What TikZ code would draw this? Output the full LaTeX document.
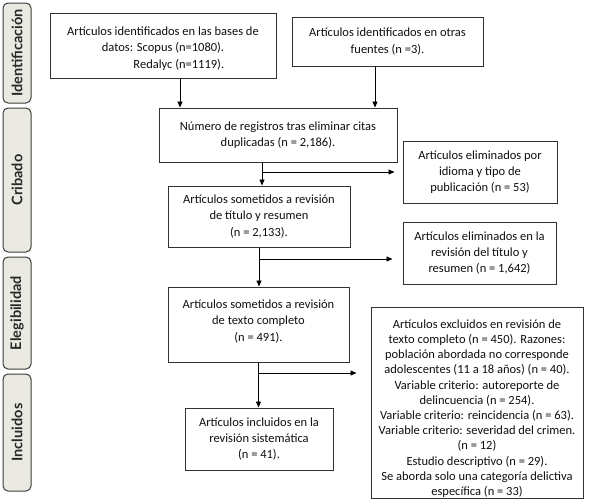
\documentclass[tikz,border=0pt]{standalone}
\usepackage{fontspec}
\usepackage{calc}
\setmainfont{Carlito}
\newfontfamily\sidefont{Lato}
\usetikzlibrary{arrows.meta}
\definecolor{boxc}{RGB}{50,50,50}
\definecolor{txtc}{RGB}{15,15,15}
\definecolor{sidec}{RGB}{60,60,60}
\definecolor{sidefill}{RGB}{235,234,226}
\definecolor{sidetxt}{RGB}{40,40,40}
\begin{document}
\begin{tikzpicture}[x=1pt,y=-1pt,
  box/.style={draw=boxc, line width=1pt, align=center, inner sep=0pt, text=txtc, font=\fontsize{12.5}{16.3}\selectfont},
  boxtext/.style={align=center, inner sep=0pt, text=txtc, font=\fontsize{12.5}{16.3}\selectfont},
  side/.style={draw=sidec, fill=sidefill, rounded corners=5pt, line width=1pt, inner sep=0pt, rotate=90, text=sidetxt, font=\sidefont\bfseries\fontsize{14.5}{16}\selectfont},
  arr/.style={-{Triangle[length=6pt,width=5pt]}, line width=0.9pt, draw=black}
]
\useasboundingbox (0,0) rectangle (589,501);
% side labels
\node[side, minimum width=100pt, minimum height=28pt] (s1) at (17,53) {Identificación};
\node[side, minimum width=144pt, minimum height=28pt] (s2) at (17,180) {Cribado};
\node[side, minimum width=112pt, minimum height=28pt] (s3) at (17,313) {Elegibilidad};
\node[side, minimum width=117pt, minimum height=28pt] (s4) at (17,432.5) {Incluidos};
% boxes
\node[box, minimum width=226pt, minimum height=65pt] (b1) at (163,45.5) {};
\node[boxtext] (b1t) at ([yshift=-3pt]b1.center)
  {Artículos identificados en las bases de\\ datos: Scopus (n=1080).\\ \makebox[\widthof{datos: Scopus (n=1080).}][r]{Redalyc (n=1119).}};
\node[box, minimum width=191pt, minimum height=49pt] (b2) at (387.5,41.5)
  {Artículos identificados en otras\\ fuentes (n =3).};
\node[box, minimum width=238pt, minimum height=54pt] (b3) at (278,135)
  {Número de registros tras eliminar citas\\ duplicadas (n = 2,186).};
\node[box, minimum width=182pt, minimum height=61pt] (b4) at (259,216.5)
  {Artículos sometidos a revisión\\ de título y resumen\\ (n = 2,133).};
\node[box, minimum width=154pt, minimum height=62pt] (b5) at (480,172)
  {Artículos eliminados por\\ idioma y tipo de\\ publicación (n = 53)};
\node[box, minimum width=153pt, minimum height=62pt] (b6) at (479.5,253)
  {Artículos eliminados en la\\ revisión del título y\\ resumen (n = 1,642)};
\node[box, minimum width=181pt, minimum height=75pt] (b7) at (258.5,324.5) {};
\node[boxtext] (b7t) at ([yshift=3pt]b7.center)
  {Artículos sometidos a revisión\\ de texto completo\\ (n = 491).};
\node[box, minimum width=212pt, minimum height=191pt] (b8) at (477,402.5) {};
\node[boxtext, font=\fontsize{12.5}{15.2}\selectfont] (b8t) at ([yshift=-6pt]b8.center)
  {Artículos excluidos en revisión de\\ texto completo (n = 450). Razones:\\ población abordada no corresponde\\ adolescentes (11 a 18 años) (n = 40).\\ Variable criterio: autoreporte de\\ delincuencia (n = 254).\\ Variable criterio: reincidencia (n = 63).\\ Variable criterio: severidad del crimen.\\ (n = 12)\\ Estudio descriptivo (n = 29).\\ Se aborda solo una categoría delictiva\\ específica (n = 33)};
\node[box, minimum width=148pt, minimum height=62pt] (b9) at (259,439)
  {Artículos incluidos en la\\ revisión sistemática\\ (n = 41).};
% connectors
\coordinate (c1) at (180,0);
\coordinate (c2) at (375,0);
\coordinate (c3) at (262,0);
\coordinate (j1) at (262,172);
\coordinate (j2) at (259,259);
\coordinate (j3) at (258.5,373);
\draw[arr] (b1.south -| c1) -- (b3.north -| c1);
\draw[arr] (b2.south -| c2) -- (b3.north -| c2);
\draw[arr] (b3.south -| c3) -- (b4.north -| c3);
\draw[arr, shorten >=8pt] (j1) -- (b5.west |- j1);
\draw[arr] (b4.south -| j2) -- (b7.north -| j2);
\draw[arr, shorten >=10pt] (j2) -- (b6.west |- j2);
\draw[arr] (b7.south -| j3) -- (b9.north -| j3);
\draw[arr, shorten >=14pt] (j3) -- (b8.west |- j3);
\end{tikzpicture}
\end{document}
